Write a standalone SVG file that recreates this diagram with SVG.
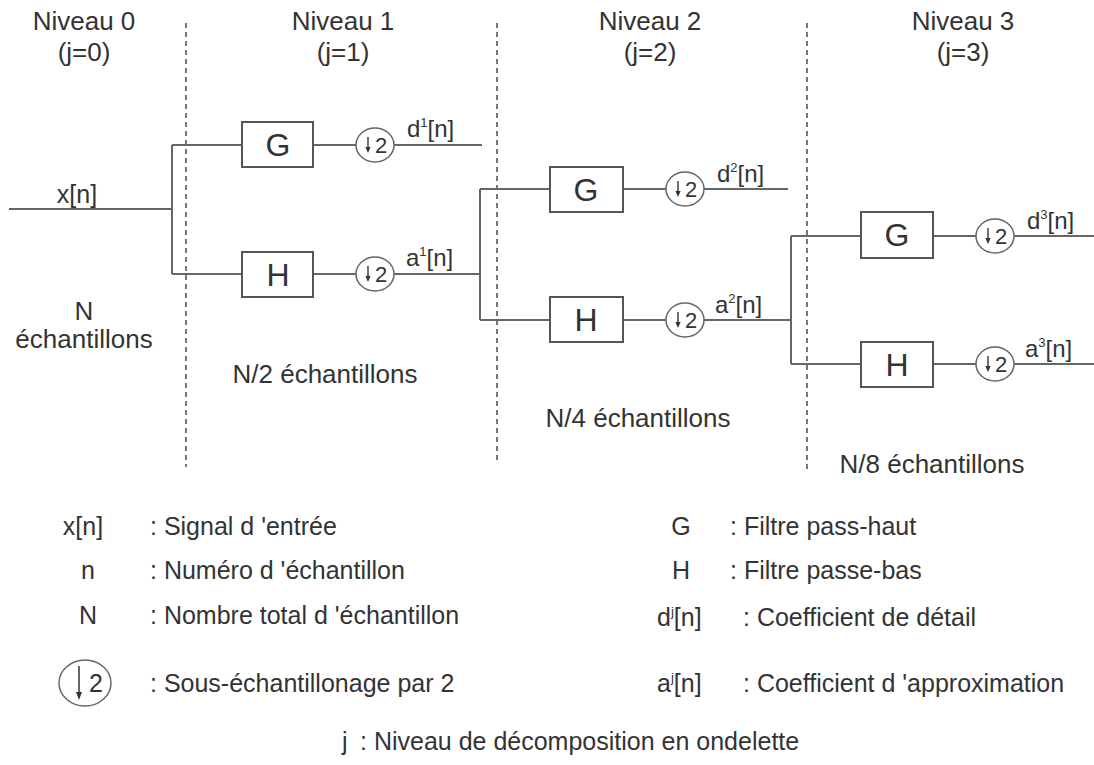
<svg xmlns="http://www.w3.org/2000/svg" width="1094" height="765" viewBox="0 0 1094 765">
<style>
text{font-family:"Liberation Sans",Arial,sans-serif;fill:#333}
.hd{font-size:26px;text-anchor:middle}
.lb{font-size:24px}
.box{fill:#fff;stroke:#555;stroke-width:2}
.bt{font-size:32px;text-anchor:middle}
.ds{fill:#fff;stroke:#666;stroke-width:1.5}
.dt{font-size:22px;text-anchor:middle}
.ln{stroke:#666;stroke-width:2;fill:none}
.dash{stroke:#777;stroke-width:2;stroke-dasharray:5 4;fill:none}
.lg{font-size:25px}
.sup{font-size:13px}
</style>
<defs>
<g id="dn"><path d="M0 -8V4" stroke="#333" stroke-width="1.4" fill="none"/><path d="M-2.6 2L0 8L2.6 2Z" fill="#333"/></g>
<g id="dnL"><path d="M0 -17V10" stroke="#333" stroke-width="1.5" fill="none"/><path d="M-3 9L0 17L3 9Z" fill="#333"/></g>
</defs>
<rect width="1094" height="765" fill="#fff"/>
<g id="levels">
<line class="dash" x1="186" y1="23" x2="186" y2="467"/>
<line class="dash" x1="497" y1="23" x2="497" y2="462"/>
<line class="dash" x1="807" y1="23" x2="807" y2="470"/>
<text class="hd" x="84" y="30">Niveau 0</text>
<text class="hd" x="84" y="61">(j=0)</text>
<text class="hd" x="343" y="30">Niveau 1</text>
<text class="hd" x="343" y="61">(j=1)</text>
<text class="hd" x="650" y="30">Niveau 2</text>
<text class="hd" x="650" y="61">(j=2)</text>
<text class="hd" x="963" y="30">Niveau 3</text>
<text class="hd" x="963" y="61">(j=3)</text>
<text class="hd" x="84" y="320">N</text>
<text class="hd" x="84" y="348">échantillons</text>
<text class="hd" x="325" y="383">N/2 échantillons</text>
<text class="hd" x="638" y="427">N/4 échantillons</text>
<text class="hd" x="932" y="473">N/8 échantillons</text>
</g>
<g id="connectors">
<path class="ln" d="M9 209H172M172 145V274M172 145H242M172 274H242"/>
<path class="ln" d="M313 145H356M394 145H482M313 274H356M394 274H480"/>
<path class="ln" d="M480 189V320M480 189H550M480 320H550"/>
<path class="ln" d="M623 189H666M704 189H788M623 320H666M704 320H791"/>
<path class="ln" d="M791 236V364M791 236H861M791 364H861"/>
<path class="ln" d="M933 236H976M1014 236H1094M933 364H976M1014 364H1094"/>
<text class="hd" x="77" y="203" style="font-size:25px">x[n]</text>
<text class="lb" x="407" y="137">d<tspan class="sup" dy="-10">1</tspan><tspan dy="10">[n]</tspan></text>
<text class="lb" x="406" y="266">a<tspan class="sup" dy="-10">1</tspan><tspan dy="10">[n]</tspan></text>
<text class="lb" x="717" y="182">d<tspan class="sup" dy="-10">2</tspan><tspan dy="10">[n]</tspan></text>
<text class="lb" x="715" y="313">a<tspan class="sup" dy="-10">2</tspan><tspan dy="10">[n]</tspan></text>
<text class="lb" x="1027" y="229">d<tspan class="sup" dy="-10">3</tspan><tspan dy="10">[n]</tspan></text>
<text class="lb" x="1025" y="357">a<tspan class="sup" dy="-10">3</tspan><tspan dy="10">[n]</tspan></text>
</g>
<g id="G1"><rect class="box" x="242" y="122" width="71" height="45"/><text class="bt" x="278" y="156">G</text></g>
<g id="H1"><rect class="box" x="242" y="252" width="71" height="45"/><text class="bt" x="278" y="286">H</text></g>
<g id="DG1"><ellipse class="ds" cx="375" cy="145" rx="19" ry="17"/><use href="#dn" x="368" y="145"/><text class="dt" x="381" y="153">2</text></g>
<g id="DH1"><ellipse class="ds" cx="375" cy="274" rx="19" ry="17"/><use href="#dn" x="368" y="274"/><text class="dt" x="381" y="282">2</text></g>
<g id="G2"><rect class="box" x="550" y="167" width="73" height="45"/><text class="bt" x="586" y="201">G</text></g>
<g id="H2"><rect class="box" x="550" y="297" width="73" height="45"/><text class="bt" x="586" y="331">H</text></g>
<g id="DG2"><ellipse class="ds" cx="685" cy="189" rx="19" ry="17"/><use href="#dn" x="678" y="189"/><text class="dt" x="691" y="197">2</text></g>
<g id="DH2"><ellipse class="ds" cx="685" cy="320" rx="19" ry="17"/><use href="#dn" x="678" y="320"/><text class="dt" x="691" y="328">2</text></g>
<g id="G3"><rect class="box" x="861" y="212" width="72" height="46"/><text class="bt" x="897" y="246">G</text></g>
<g id="H3"><rect class="box" x="861" y="342" width="72" height="45"/><text class="bt" x="897" y="376">H</text></g>
<g id="DG3"><ellipse class="ds" cx="995" cy="236" rx="19" ry="17"/><use href="#dn" x="988" y="236"/><text class="dt" x="1001" y="244">2</text></g>
<g id="DH3"><ellipse class="ds" cx="995" cy="364" rx="19" ry="17"/><use href="#dn" x="988" y="364"/><text class="dt" x="1001" y="372">2</text></g>
<g id="legend">
<text class="lg" x="83" y="535" text-anchor="middle">x[n]</text>
<text class="lg" x="150" y="535">: Signal d 'entrée</text>
<text class="lg" x="88" y="579" text-anchor="middle">n</text>
<text class="lg" x="150" y="579">: Numéro d 'échantillon</text>
<text class="lg" x="88" y="624" text-anchor="middle">N</text>
<text class="lg" x="150" y="624">: Nombre total d 'échantillon</text>
<ellipse class="ds" cx="85" cy="683" rx="26" ry="23"/>
<use href="#dnL" x="79" y="683"/>
<text class="lg" x="96" y="692" text-anchor="middle">2</text>
<text class="lg" x="150" y="692">: Sous-échantillonage par 2</text>
<text class="lg" x="681" y="535" text-anchor="middle">G</text>
<text class="lg" x="730" y="535">: Filtre pass-haut</text>
<text class="lg" x="681" y="579" text-anchor="middle">H</text>
<text class="lg" x="730" y="579">: Filtre passe-bas</text>
<text class="lg" x="657" y="626">d<tspan class="sup" dy="-10">j</tspan><tspan dy="10">[n]</tspan></text>
<text class="lg" x="743" y="626">: Coefficient de détail</text>
<text class="lg" x="657" y="692">a<tspan class="sup" dy="-10">j</tspan><tspan dy="10">[n]</tspan></text>
<text class="lg" x="743" y="692">: Coefficient d 'approximation</text>
<text class="lg" x="342" y="750">j</text>
<text class="lg" x="360" y="750">: Niveau de décomposition en ondelette</text>
</g>
</svg>
